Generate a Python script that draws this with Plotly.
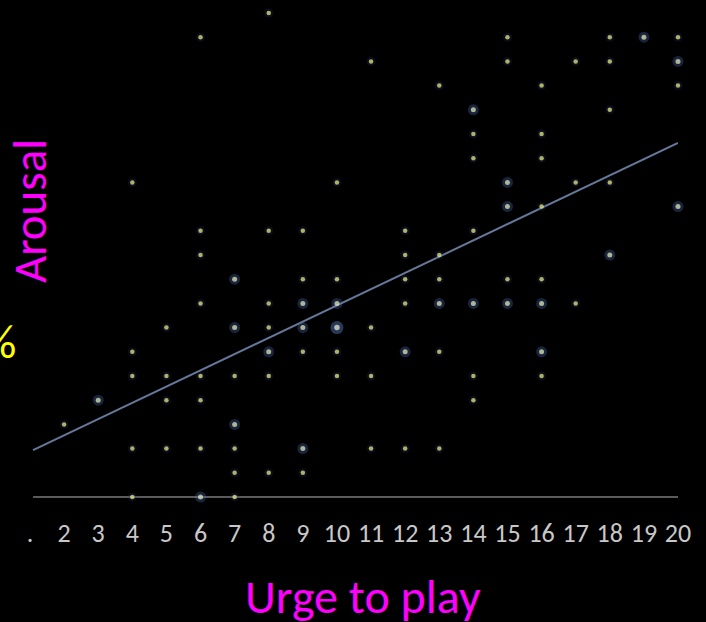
import plotly.graph_objects as go

# ---- data ----
urge = [2, 3,
        4, 4, 4, 4, 4,
        5, 5, 5, 5,
        6, 6, 6, 6, 6, 6, 6, 6,
        7, 7, 7, 7, 7, 7, 7,
        8, 8, 8, 8, 8, 8, 8,
        9, 9, 9, 9, 9, 9, 9,
        10, 10, 10, 10, 10, 10,
        11, 11, 11, 11,
        12, 12, 12, 12, 12, 12,
        13, 13, 13, 13, 13, 13,
        14, 14, 14, 14, 14, 14, 14,
        15, 15, 15, 15, 15, 15,
        16, 16, 16, 16, 16, 16, 16, 16,
        17, 17, 17,
        18, 18, 18, 18, 18,
        19,
        20, 20, 20, 20]
arousal = [3, 4,
           13, 6, 5, 2, 0,
           7, 5, 4, 2,
           19, 11, 10, 8, 5, 4, 2, 0,
           9, 7, 5, 3, 2, 1, 0,
           20, 11, 8, 7, 6, 5, 1,
           11, 9, 8, 7, 6, 2, 1,
           13, 9, 8, 7, 6, 5,
           18, 7, 5, 2,
           11, 10, 9, 8, 6, 2,
           17, 10, 9, 8, 6, 2,
           16, 15, 14, 11, 8, 5, 4,
           19, 18, 13, 12, 9, 8,
           17, 15, 14, 12, 9, 8, 6, 5,
           18, 13, 8,
           19, 18, 16, 13, 10,
           19,
           19, 18, 17, 12]
overlap = [1, 2,
           1, 1, 1, 1, 1,
           1, 1, 1, 1,
           1, 1, 1, 1, 1, 1, 1, 2,
           2, 2, 1, 2, 1, 1, 1,
           1, 1, 1, 1, 2, 1, 1,
           1, 1, 2, 2, 1, 2, 1,
           1, 1, 2, 3, 1, 1,
           1, 1, 1, 1,
           1, 1, 1, 1, 2, 1,
           1, 1, 1, 2, 1, 1,
           2, 1, 1, 1, 2, 1, 1,
           1, 1, 2, 2, 1, 2,
           1, 1, 1, 1, 1, 2, 2, 1,
           1, 1, 1,
           1, 1, 1, 1, 2,
           2,
           1, 2, 1, 2]

trend_x = [1.09, 20]
trend_y = [1.94, 14.63]

tick_vals = list(range(1, 21))
tick_text = ["."] + [str(v) for v in range(2, 21)]

x_title = "Urge to play"
y_title = "Arousal"

FONT = "Carlito, Lato, 'Open Sans', sans-serif"

fig = go.Figure()

# baseline
fig.add_shape(type="line", x0=1.09, x1=20, y0=0, y1=0, xref="x", yref="y",
              line=dict(color="#7a7a7a", width=1.5), layer="below")

# regression line
fig.add_trace(go.Scatter(x=trend_x, y=trend_y, mode="lines",
                         line=dict(color="#66789a", width=2),
                         hoverinfo="skip", showlegend=False))

halo_size = {1: 9, 2: 11, 3: 13}
halo_col = {1: "rgba(45,65,130,0.30)", 2: "rgba(80,115,190,0.45)", 3: "rgba(95,135,210,0.6)"}
core_col = {1: "#f4f88a", 2: "#ecf4bc", 3: "#eef4d8"}
core_size = {1: 4.5, 2: 5, 3: 5.5}

fig.add_trace(go.Scatter(x=urge, y=arousal, mode="markers",
                         marker=dict(size=[halo_size[c] for c in overlap],
                                     color=[halo_col[c] for c in overlap],
                                     line=dict(width=0)),
                         hoverinfo="skip", showlegend=False, cliponaxis=False))
fig.add_trace(go.Scatter(x=urge, y=arousal, mode="markers",
                         marker=dict(size=[core_size[c] for c in overlap],
                                     color=[core_col[c] for c in overlap],
                                     line=dict(width=0)),
                         showlegend=False, cliponaxis=False))

fig.update_layout(
    width=706, height=622,
    paper_bgcolor="black", plot_bgcolor="black",
    margin=dict(l=30, r=28, t=0, b=112),
    xaxis=dict(range=[1, 20], tickvals=tick_vals, ticktext=tick_text,
               showgrid=False, zeroline=False, showline=False, ticks="",
               ticklabelstandoff=5,
               tickfont=dict(family=FONT, size=26, color="#c8c8c8")),
    yaxis=dict(range=[-0.537, 20.537], showgrid=False, zeroline=False,
               showline=False, showticklabels=False, ticks=""),
    annotations=[
        dict(text=x_title, xref="paper", yref="paper",
             x=(363 - 30) / 648, y=-(596 - 510) / 510,
             xanchor="center", yanchor="middle", showarrow=False,
             font=dict(family=FONT, size=48, color="#ff00ff")),
        dict(text=y_title, xref="paper", yref="paper",
             x=(30 - 30) / 648, y=1 - 211 / 510,
             xanchor="center", yanchor="middle", textangle=-90, showarrow=False,
             font=dict(family=FONT, size=47, color="#ff00ff")),
        dict(text="%", xref="paper", yref="paper",
             x=(17 - 30) / 648, y=1 - 341 / 510,
             xanchor="right", yanchor="middle", showarrow=False, borderpad=0,
             font=dict(family=FONT, size=48, color="#ffff00")),
    ],
)

fig.write_html("out.html",
               config={"displayModeBar": False},
               post_script="document.body.style.margin='0';"
                           "document.body.style.overflow='hidden';"
                           "document.body.style.background='black';")
